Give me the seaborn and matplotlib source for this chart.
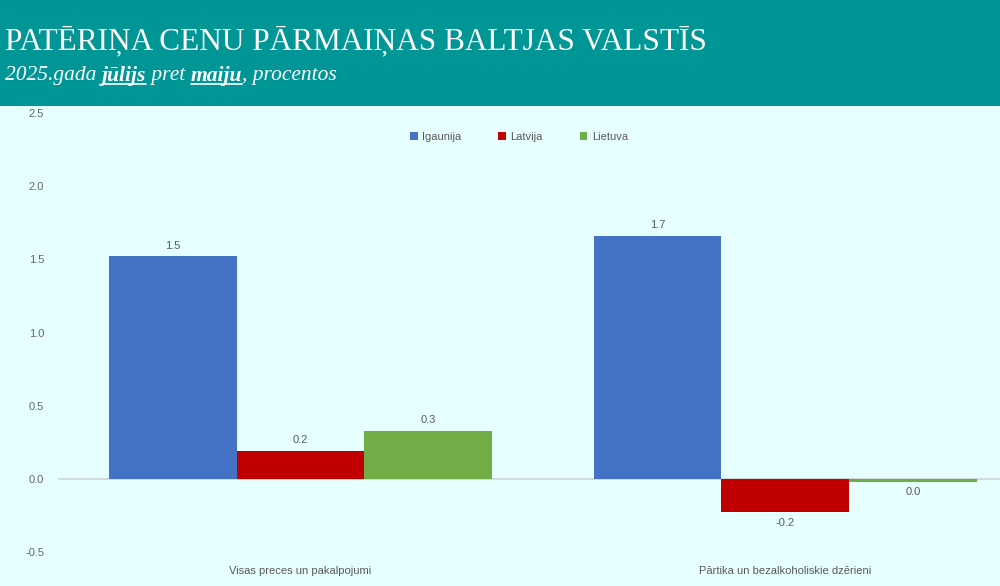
import numpy as np
import pandas as pd
import matplotlib
matplotlib.use("Agg")
import matplotlib.pyplot as plt
from matplotlib.patches import Rectangle
from matplotlib.lines import Line2D
import seaborn as sns

# dati
kategorijas = ["Visas preces un pakalpojumi", "Pārtika un bezalkoholiskie dzērieni"]
valstis = ["Igaunija", "Latvija", "Lietuva"]
igaunija = [1.52, 1.66]
latvija = [0.19, -0.23]
lietuva = [0.33, -0.02]

krasas = {"Igaunija": "#4472C4", "Latvija": "#C00000", "Lietuva": "#70AD47"}

df = pd.DataFrame({
    "kategorija": kategorijas * 3,
    "valsts": np.repeat(valstis, 2),
    "vertiba": igaunija + latvija + lietuva,
})

sns.set_style("white")
plt.rcParams["font.family"] = ["Liberation Sans", "DejaVu Sans"]

fig = plt.figure(figsize=(10, 5.86), dpi=100)
fig.patch.set_facecolor("#E6FFFF")

# galvene
fig.patches.append(Rectangle((0, 1 - 106 / 586), 1, 106 / 586, transform=fig.transFigure,
                             facecolor="#009696", edgecolor="none", zorder=0))
fig.text(0.005, 1 - 41 / 586, "PATĒRIŅA CENU PĀRMAIŅAS BALTJAS VALSTĪS", color="white",
         fontsize=22.5, family="Liberation Serif", va="center", ha="left")

# apakšvirsraksts ar izceltiem vārdiem
dalas = [("2025.gada ", False), ("jūlijs", True), (" pret ", False), ("maiju", True), (", procentos", False)]
fig.canvas.draw()
renderer = fig.canvas.get_renderer()
x = 0.005
y = 1 - 76 / 586
for teksts, izcelts in dalas:
    t = fig.text(x, y, teksts, color="white", fontsize=15.5, family="Liberation Serif",
                 style="italic", weight="bold" if izcelts else "normal", va="center", ha="left")
    bb = t.get_window_extent(renderer).transformed(fig.transFigure.inverted())
    if izcelts:
        fig.lines.append(Line2D([bb.x0, bb.x1], [bb.y0 + 0.004, bb.y0 + 0.004],
                                transform=fig.transFigure, color="white", lw=1.2))
    x = bb.x1

ax = fig.add_axes([0.058, 1 - 552 / 586, 0.942, (552 - 113) / 586])
ax.set_facecolor("#E6FFFF")
sns.barplot(data=df, x="kategorija", y="vertiba", hue="valsts", order=kategorijas,
            hue_order=valstis, palette=krasas, width=0.79, ax=ax, saturation=1, linewidth=0)

for cont in ax.containers:
    vals = cont.datavalues
    labels = [f"{0.0 if round(v, 1) == 0 else v:.1f}" for v in vals]
    ax.bar_label(cont, labels=labels, padding=4, fontsize=8, color="#595959")

ax.set_ylim(-0.5, 2.5)
ax.set_yticks(np.arange(-0.5, 2.51, 0.5))
ax.set_yticklabels([f"{v:.1f}" for v in np.arange(-0.5, 2.51, 0.5)])
ax.set_xlim(-0.5, 1.443)
ax.axhline(0, color="#CFDCDC", lw=1.5, zorder=0)
ax.set_xlabel("")
ax.set_ylabel("")
sns.despine(ax=ax, left=True, bottom=True)
ax.tick_params(axis="y", length=0, labelsize=8, labelcolor="#666666", pad=10)
ax.tick_params(axis="x", length=0, labelsize=8, labelcolor="#595959", pad=10)

ax.legend(loc="upper center", bbox_to_anchor=(0.5 - 10 / 942, 0.98),
          ncol=3, frameon=False, fontsize=8, handlelength=0.7, handleheight=0.7,
          columnspacing=3.3, handletextpad=0.4, labelcolor="#595959")

fig.savefig("out.png", dpi=100, facecolor=fig.get_facecolor())
